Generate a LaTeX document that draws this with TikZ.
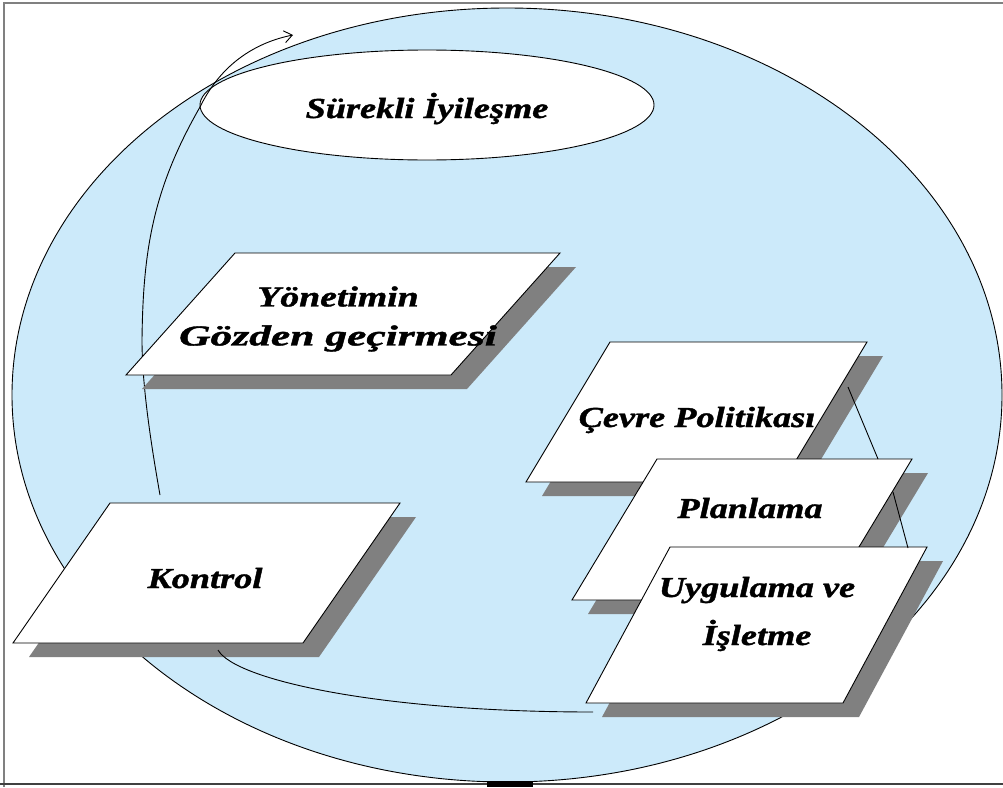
\documentclass[tikz,border=0pt]{standalone}
\usepackage{fontspec}
\setmainfont{Liberation Serif}[BoldItalicFeatures={FakeBold=1.2}]
\usetikzlibrary{arrows.meta,shapes.geometric}
\definecolor{poolblue}{RGB}{204,234,250}
\definecolor{slabgray}{RGB}{128,128,128}
% horizontally widened text
\newcommand\wtxt[2]{\scalebox{#1}[1]{#2}}
% slanted plate: name, top-left x, top-left y, width, height, slant
\newcommand\slab[6]{%
  \coordinate (#1-tl) at (#2,#3);
  \coordinate (#1-tr) at ({#2+#4},#3);
  \coordinate (#1-br) at ({#2+#4-#6},{#3+#5});
  \coordinate (#1-bl) at ({#2-#6},{#3+#5});
  \fill[slabdrop] ([shift={(16,14)}]#1-tl) -- ([shift={(16,14)}]#1-tr)
     -- ([shift={(16,14)}]#1-br) -- ([shift={(16,14)}]#1-bl) -- cycle;
  \draw[slabface] (#1-tl) -- (#1-tr) -- (#1-br) -- (#1-bl) -- cycle;
}
\begin{document}
\begin{tikzpicture}[x=1pt,y=-1pt,
  slabface/.style={draw=black, line width=0.9pt, fill=white},
  slabdrop/.style={fill=slabgray, draw=none},
  flow/.style={draw=black, line width=0.9pt},
  lbltext/.style={font=\fontsize{29}{39}\selectfont\bfseries\itshape,
    align=center, inner sep=0pt, text=black},
]
\useasboundingbox (0,0) rectangle (1003,787);
\fill[white] (0,0) rectangle (1003,787);

% large field
\draw[fill=poolblue, line width=0.9pt] (507,395) ellipse [x radius=495pt, y radius=387pt];

% frame
\draw[gray, line width=1.2pt] (4,787) -- (4,3) -- (1003,3);
\draw[black!75, line width=1.5pt] (0,784) -- (1003,784);
\fill[black] (487,781) rectangle (533,787);

% continual improvement
\node[draw=black, line width=0.9pt, fill=white, ellipse, minimum width=454pt,
  minimum height=110pt, lbltext, text height=26pt, text depth=0pt]
  (sur) at (427,105) {\wtxt{1.25}{Sürekli İyileşme}};

% connector end points
\coordinate (kon-in) at (160,495);
\coordinate (loop-tip) at (293,35);
\coordinate (kon-out) at (218,650);
\coordinate (uyg-out) at (593,712);
\coordinate (cev-out) at (848,387);
\coordinate (pla-in) at (878,459);
\coordinate (pla-out) at (893,492);
\coordinate (uyg-in) at (908,548);

% improvement loop
\draw[flow, -{Straight Barb[length=8pt,width=12pt]}]
  (kon-in) .. controls (153,455) and (142,390) .. (142,340)
           .. controls (143,250) and (153,189) .. (200,107)
           .. controls (222,62) and (258,42) .. (loop-tip);

% plates
\slab{yon}{235}{253}{325}{122}{109}
\slab{kon}{110}{503}{290}{140}{97}
\slab{cev}{610}{342}{257}{140}{84}
\slab{pla}{657}{459}{255}{141}{85}
\slab{uyg}{670}{547}{257}{156}{84}

\node[lbltext] (yon) at (338,319)
  {\wtxt{1.3}{Yönetimin}\\\wtxt{1.5}{Gözden geçirmesi}};
\node[lbltext, anchor=base] (kon) at (205,588) {\wtxt{1.25}{Kontrol}};
\node[lbltext, anchor=base] (cev) at (697,427) {\wtxt{1.25}{Çevre Politikası}};
\node[lbltext, anchor=base] (pla) at (750,518) {\wtxt{1.25}{Planlama}};
\node[lbltext] (uyg) at (757,614)
  {\wtxt{1.25}{Uygulama ve}\\[9pt]\wtxt{1.25}{İşletme}};

% links between plates
\draw[flow] (kon-out) .. controls (235,680) and (380,712) .. (uyg-out);
\draw[flow] (cev-out) -- (pla-in);
\draw[flow] (pla-out) -- (uyg-in);
\end{tikzpicture}
\end{document}
